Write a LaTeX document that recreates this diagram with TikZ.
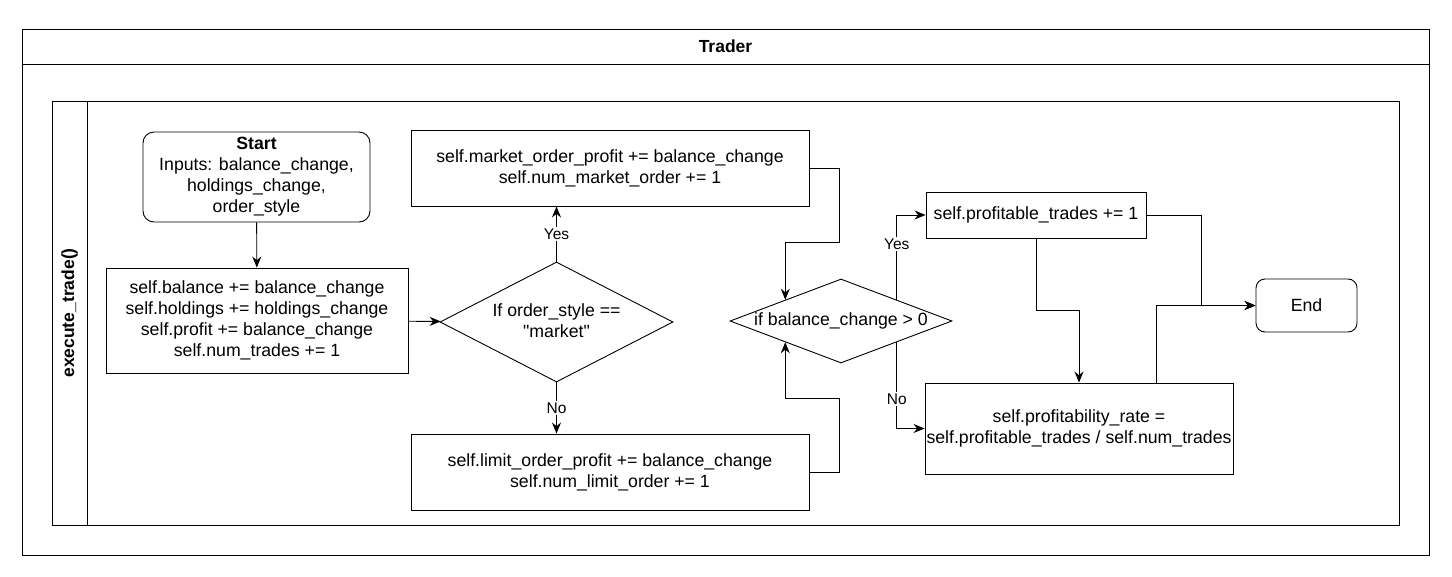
\documentclass[tikz,border=0pt]{standalone}
\usepackage{fontspec}
\setmainfont{Liberation Sans}[Ligatures=TeXOff]
\usetikzlibrary{arrows.meta,shapes.geometric}
\begin{document}
\begin{tikzpicture}[x=1pt,y=-1pt,
  every node/.style={font=\fontsize{17.7}{21}\selectfont},
  frame/.style={draw, line width=0.9pt},
  box/.style={draw, line width=0.9pt, align=center, inner sep=0pt},
  rbox/.style={box, rounded corners=11pt},
  dia/.style={draw, line width=0.9pt, diamond, inner sep=0pt},
  arr/.style={draw, line width=0.9pt, -{Stealth[length=11pt,width=9pt]}},
  lbl/.style={fill=white, inner sep=1.5pt, font=\fontsize{15.5}{18}\selectfont}]
\useasboundingbox (0,0) rectangle (1452,576);
% swimlane frames
\draw[frame] (22,29) rectangle (1429,555);
\draw[frame] (22,64) -- (1429,64);
\node[font=\bfseries\fontsize{17.5}{21}\selectfont] (title) at (725.5,46.5) {Trader};
\draw[frame] (52,101) rectangle (1399,525);
\draw[frame] (87,101) -- (87,525);
\node[font=\bfseries\fontsize{17.5}{21}\selectfont, rotate=90] (lane) at (69.5,313) {execute\_trade()};
% nodes
\node[rbox, minimum width=227pt, minimum height=90pt] (start) at (256.5,177)
  {\textbf{Start}\\Inputs: balance\_change,\\holdings\_change,\\order\_style};
\node[box, minimum width=302pt, minimum height=105pt] (upd) at (257,320.5)
  {self.balance += balance\_change\\self.holdings += holdings\_change\\self.profit += balance\_change\\self.num\_trades += 1};
\node[dia, minimum width=233pt, minimum height=120pt] (d1) at (556.5,322) {};
\node[align=center] (d1t) at (556.5,321) {If order\_style ==\\"market"};
\node[box, minimum width=398pt, minimum height=76pt] (market) at (610,168)
  {self.market\_order\_profit += balance\_change\\self.num\_market\_order += 1};
\node[box, minimum width=398pt, minimum height=76pt] (limit) at (610,472)
  {self.limit\_order\_profit += balance\_change\\self.num\_limit\_order += 1};
\node[dia, minimum width=222pt, minimum height=84pt] (d2) at (841,321) {};
\node (d2t) at (841,321) {if balance\_change > 0};
\node[box, minimum width=220pt, minimum height=46pt] (prof) at (1036,215) {self.profitable\_trades += 1};
\node[box, minimum width=308pt, minimum height=91pt] (rate) at (1079,428.5)
  {self.profitability\_rate =\\self.profitable\_trades / self.num\_trades};
\node[rbox, minimum width=101pt, minimum height=53pt, rounded corners=9pt] (end) at (1306.5,305.5) {End};
% connectors
\draw[arr] (start) -- (upd);
\draw[arr] (upd) -- (d1);
\draw[arr] (d1.north) -- node[lbl] (yes1) {Yes} (d1.north |- market.south);
\draw[arr] (d1.south) -- node[lbl] (no1) {No} (d1.south |- limit.north);
\draw[arr] (market.east) -| ++(30,74) -| (d2.north west);
\draw[arr] (limit.east) -| ++(30,-74) -| (d2.south west);
\draw[arr] (d2.north east) |- node[lbl, pos=0.33] (yes2) {Yes} (prof.west);
\draw[arr] (d2.south east) |- node[lbl, pos=0.33] (no2) {No} (rate.west);
\draw[arr] (prof.south) -- ++(0,72) -| (rate.north);
\draw[arr] (prof.east) -- ++(55,0) |- (end.west);
\draw[arr] ([xshift=77pt]rate.north) |- (end.west);
\end{tikzpicture}
\end{document}
